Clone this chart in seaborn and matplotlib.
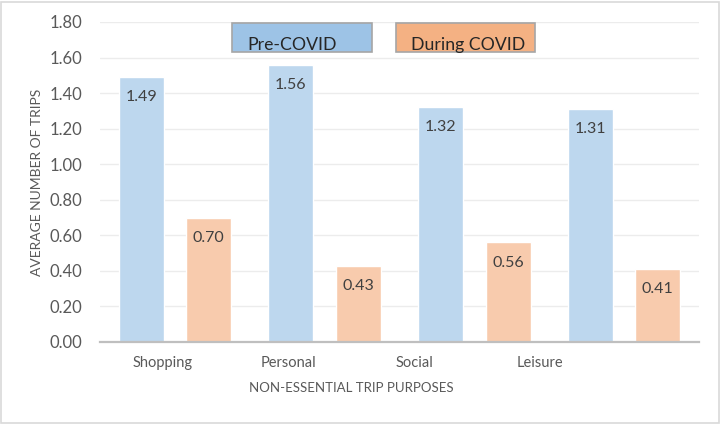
import matplotlib
matplotlib.use("Agg")
import matplotlib.pyplot as plt
import seaborn as sns
import pandas as pd
from matplotlib.patches import Rectangle

categories = ["Shopping", "Personal", "Social", "Leisure"]
pre_covid = [1.49, 1.56, 1.32, 1.31]
during_covid = [0.70, 0.43, 0.56, 0.41]
series_names = ["Pre-COVID", "During COVID"]
y_ticks = [0.0, 0.2, 0.4, 0.6, 0.8, 1.0, 1.2, 1.4, 1.6, 1.8]

df = pd.DataFrame({
    "purpose": categories * 2,
    "period": [series_names[0]] * 4 + [series_names[1]] * 4,
    "trips": pre_covid + during_covid,
})

sns.set_theme(style="white")
plt.rcParams["font.family"] = ["Lato", "DejaVu Sans"]

bar_colors = {"Pre-COVID": "#BDD7EE", "During COVID": "#F8CBAD"}
box_colors = {"Pre-COVID": "#9DC3E6", "During COVID": "#F4B183"}
text_gray = "#595959"

fig = plt.figure(figsize=(7.21, 4.25), dpi=100)
fig.patch.set_facecolor("white")
ax = fig.add_axes([100 / 721, 83 / 425, 599 / 721, 320 / 425])

sns.barplot(data=df, x="purpose", y="trips", hue="period", order=categories,
            hue_order=series_names, palette=bar_colors, width=0.9, gap=0.333,
            legend=False, ax=ax, saturation=1)

ax.set_ylim(0, 1.8)
ax.set_xlim(-0.5, 3.5)
ax.set_yticks(y_ticks)
ax.set_yticklabels([f"{v:.2f}" for v in y_ticks], fontsize=12, color=text_gray)
ax.yaxis.grid(True, color="#ECECEC", linewidth=1)
ax.set_axisbelow(True)
for s in ["top", "right", "left"]:
    ax.spines[s].set_visible(False)
ax.spines["bottom"].set_color("#BFBFBF")
ax.spines["bottom"].set_linewidth(1.6)
ax.tick_params(axis="y", length=0, pad=13)
ax.tick_params(axis="x", length=0, pad=10)

# tick labels positioned as in the reference
ax.set_xticks([i * 0.84 - 0.08 for i in range(len(categories))])
ax.set_xticklabels(categories, fontsize=10.5, color=text_gray)

ax.set_xlabel("NON-ESSENTIAL TRIP PURPOSES", fontsize=9.5, color=text_gray)
ax.xaxis.set_label_coords(0.42, -0.125)
ax.set_ylabel("AVERAGE NUMBER OF TRIPS", fontsize=10, color=text_gray)
ax.yaxis.set_label_coords(-0.095, 0.5)

for cont in ax.containers:
    for bar in cont:
        h = bar.get_height()
        ax.annotate(f"{h:.2f}", (bar.get_x() + bar.get_width() / 2, h),
                    xytext=(0, -14.5), textcoords="offset points",
                    ha="center", va="center", fontsize=11.5, color="#404040")

# legend boxes
for (x0, w), name in zip([(232, 140), (396, 139)], series_names):
    fig.patches.append(Rectangle((x0 / 721, (425 - 52) / 425), w / 721, 29 / 425,
                                 transform=fig.transFigure, facecolor=box_colors[name],
                                 edgecolor="#A6A6A6", linewidth=1.2))
    fig.text((x0 + 15) / 721, (425 - 50) / 425, name, fontsize=12.7,
             color="#262626", ha="left", va="baseline")

# figure border
fig.patches.append(Rectangle((1 / 721, 2 / 425), 718 / 721, 421 / 425,
                             transform=fig.transFigure, fill=False,
                             edgecolor="#D9D9D9", linewidth=1.2))

fig.savefig("out.png", dpi=100)
